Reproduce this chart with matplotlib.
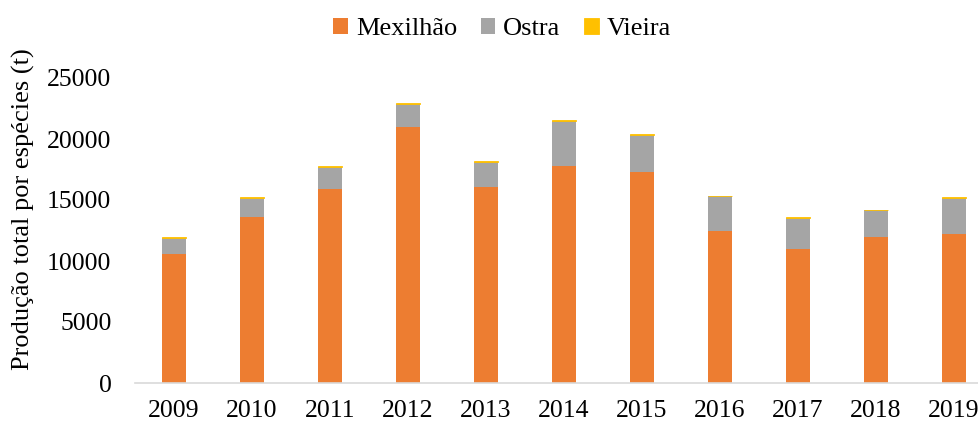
import numpy as np
import matplotlib.pyplot as plt

years = ["2009", "2010", "2011", "2012", "2013", "2014", "2015", "2016", "2017", "2018", "2019"]
mexilhao = [10570, 13630, 15870, 20950, 16090, 17750, 17260, 12430, 10950, 11930, 12210]
ostra = [1310, 1500, 1800, 1890, 2050, 3750, 3090, 2870, 2570, 2210, 2920]
vieira = [100, 110, 80, 110, 80, 80, 80, 60, 80, 60, 80]

plt.rcParams['font.family'] = ['Liberation Serif', 'DejaVu Serif']

fig = plt.figure(figsize=(9.79, 4.25), dpi=100)
ax = fig.add_axes([135 / 979, 42 / 425, 858 / 979, 305 / 425])

x = np.arange(len(years))
w = 0.31
mex = np.array(mexilhao)
ost = np.array(ostra)
vie = np.array(vieira)

ax.bar(x, mex, w, color="#ED7D31", label="Mexilhão")
ax.bar(x, ost, w, bottom=mex, color="#A5A5A5", label="Ostra")
# thin edge so the small yellow caps stay visible
ax.bar(x, vie, w, bottom=mex + ost, color="#FFC000", edgecolor="#FFC000",
       linewidth=0.6, label="Vieira")

ax.set_xlim(-0.5, len(years) - 0.5)
ax.set_ylim(0, 25000)
ax.set_yticks(np.arange(0, 25001, 5000))
ax.set_xticks(x)
ax.set_xticklabels(years)

for s in ["top", "right", "left"]:
    ax.spines[s].set_visible(False)
ax.spines["bottom"].set_color("#D9D9D9")
ax.spines["bottom"].set_linewidth(1.2)
ax.tick_params(axis="both", length=0, labelsize=18.5, colors="black")
ax.tick_params(axis="x", pad=12)
ax.tick_params(axis="y", pad=17)

ax.set_ylabel("Produção total por espécies (t)", fontsize=19)
ax.yaxis.set_label_coords(-0.117, 0.57)

fig.legend(loc="center", bbox_to_anchor=(0.513, 0.932), ncol=3, frameon=False,
           fontsize=19, handlelength=0.55, handleheight=0.55, handletextpad=0.3,
           columnspacing=0.9)

fig.savefig("out.png", dpi=100)
